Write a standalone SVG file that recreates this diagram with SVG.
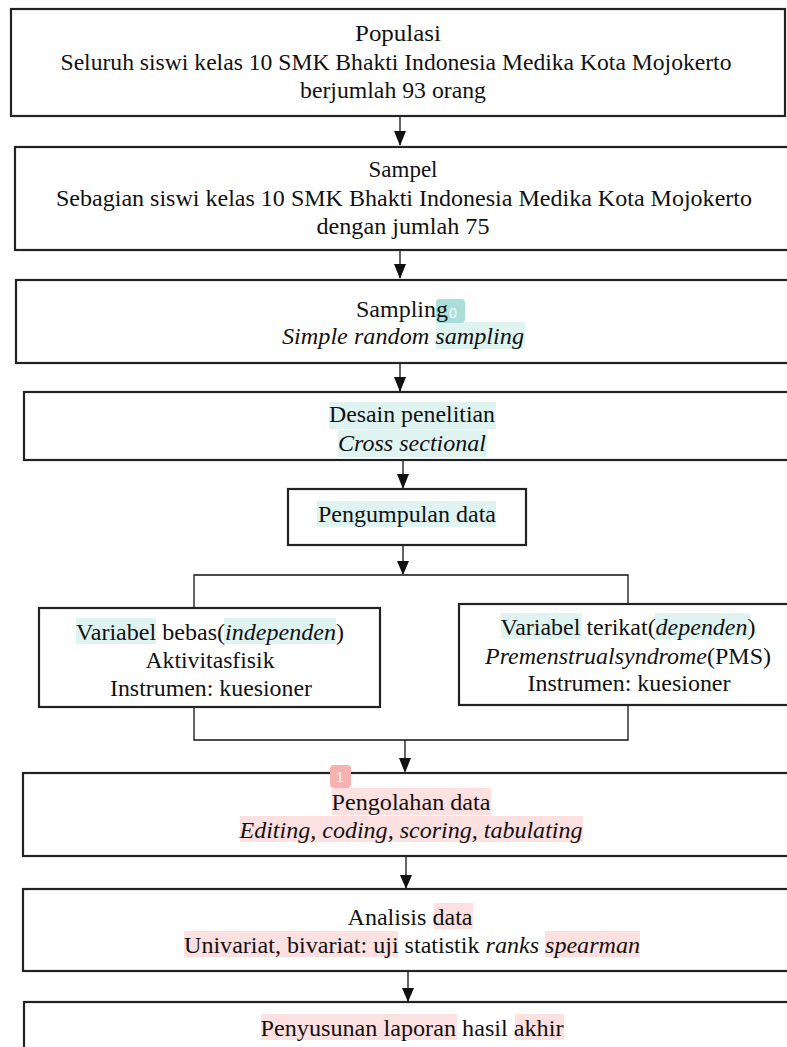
<svg xmlns="http://www.w3.org/2000/svg" width="787" height="1047" viewBox="0 0 787 1047" font-family="Liberation Serif, Times New Roman, serif">
<defs>
<style>
.box{fill:#ffffff;stroke:#222;stroke-width:2.2}
.ln{fill:none;stroke:#111;stroke-width:1.3}
text.t{font-family:'Liberation Serif',serif;font-size:24px;fill:#111;text-anchor:middle}
tspan.i, text.i{font-style:italic}
.hlt{fill:#dff3f1}
.hlp{fill:#fde1e1}
.bt{fill:#a9dedb}
.bp{fill:#f6b1b1}
text.bn{font-family:'Liberation Sans',sans-serif;font-size:14px;fill:#ffffff;text-anchor:middle}
</style>
</defs>
<rect width="787" height="1047" fill="#ffffff"/>

<g id="connectors">
<line class="ln" x1="400" y1="117" x2="400" y2="145"/>
<path d="M394,131 L406,131 L400,146 Z" fill="#111"/>
<line class="ln" x1="400" y1="251" x2="400" y2="278"/>
<path d="M394,264 L406,264 L400,279 Z" fill="#111"/>
<line class="ln" x1="400" y1="363" x2="400" y2="391"/>
<path d="M394,377 L406,377 L400,392 Z" fill="#111"/>
<line class="ln" x1="403" y1="461" x2="403" y2="488"/>
<path d="M397,474 L409,474 L403,489 Z" fill="#111"/>
<line class="ln" x1="403" y1="545" x2="403" y2="574"/>
<path d="M397,561 L409,561 L403,575 Z" fill="#111"/>
<polyline class="ln" points="194,608 194,575 628,575 628,603"/>
<polyline class="ln" points="194,708 194,740 628,740 628,706"/>
<line class="ln" x1="405" y1="740" x2="405" y2="771"/>
<path d="M399,758 L411,758 L405,773 Z" fill="#111"/>
<line class="ln" x1="406" y1="857" x2="406" y2="888"/>
<path d="M400,875 L412,875 L406,889 Z" fill="#111"/>
<line class="ln" x1="408" y1="972" x2="408" y2="1001"/>
<path d="M402,988 L414,988 L408,1002 Z" fill="#111"/>
</g>

<g id="populasi">
<rect class="box" x="11" y="9" width="774" height="107"/>
<text class="t" x="398" y="41" textLength="86" lengthAdjust="spacingAndGlyphs">Populasi</text>
<text class="t" x="396" y="70" textLength="671" lengthAdjust="spacingAndGlyphs">Seluruh siswi kelas 10 SMK Bhakti Indonesia Medika Kota Mojokerto</text>
<text class="t" x="393" y="98" textLength="186" lengthAdjust="spacingAndGlyphs">berjumlah 93 orang</text>
</g>

<g id="sampel">
<rect class="box" x="15" y="147" width="800" height="103"/>
<text class="t" x="403" y="177" textLength="69" lengthAdjust="spacingAndGlyphs">Sampel</text>
<text class="t" x="404" y="206" textLength="696" lengthAdjust="spacingAndGlyphs">Sebagian siswi kelas 10 SMK Bhakti Indonesia Medika Kota Mojokerto</text>
<text class="t" x="403" y="234" textLength="173" lengthAdjust="spacingAndGlyphs">dengan jumlah 75</text>
</g>

<g id="sampling">
<rect class="box" x="16" y="280" width="800" height="83"/>
<rect class="hlt" x="436" y="322" width="89" height="27"/>
<rect class="bt" x="436" y="299" width="29" height="24" rx="4"/>
<text class="t" x="402" y="317" textLength="92" lengthAdjust="spacingAndGlyphs">Sampling</text>
<text class="bn" x="453" y="318">0</text>
<text class="t i" x="403" y="344" textLength="242" lengthAdjust="spacingAndGlyphs">Simple random sampling</text>
</g>

<g id="desain">
<rect class="box" x="24" y="392" width="800" height="68"/>
<rect class="hlt" x="329" y="402" width="167" height="27"/>
<rect class="hlt" x="338" y="430" width="149" height="27"/>
<text class="t" x="412" y="422" textLength="166" lengthAdjust="spacingAndGlyphs">Desain penelitian</text>
<text class="t i" x="412" y="451" textLength="148" lengthAdjust="spacingAndGlyphs">Cross sectional</text>
</g>

<g id="pengumpulan">
<rect class="box" x="288" y="489" width="238" height="56"/>
<rect class="hlt" x="317" y="501" width="179" height="26"/>
<text class="t" x="407" y="522" textLength="178" lengthAdjust="spacingAndGlyphs">Pengumpulan data</text>
</g>

<g id="variabel-bebas">
<rect class="box" x="39" y="608" width="341" height="99"/>
<rect class="hlt" x="76" y="618" width="80" height="26"/>
<rect class="hlt" x="224" y="618" width="112" height="26"/>
<text class="t" x="210" y="640" textLength="268" lengthAdjust="spacingAndGlyphs">Variabel bebas(<tspan class="i">independen</tspan>)</text>
<text class="t" x="210" y="668" textLength="129" lengthAdjust="spacingAndGlyphs">Aktivitasfisik</text>
<text class="t" x="211" y="696" textLength="202" lengthAdjust="spacingAndGlyphs">Instrumen: kuesioner</text>
</g>

<g id="variabel-terikat">
<rect class="box" x="459" y="604" width="360" height="101"/>
<rect class="hlt" x="501" y="613" width="81" height="26"/>
<rect class="hlt" x="655" y="613" width="95" height="26"/>
<text class="t" x="628" y="635" textLength="255" lengthAdjust="spacingAndGlyphs">Variabel terikat(<tspan class="i">dependen</tspan>)</text>
<text class="t" x="628" y="664" textLength="286" lengthAdjust="spacingAndGlyphs"><tspan class="i">Premenstrualsyndrome</tspan>(PMS)</text>
<text class="t" x="629" y="691" textLength="203" lengthAdjust="spacingAndGlyphs">Instrumen: kuesioner</text>
</g>

<g id="pengolahan">
<rect class="box" x="23" y="773" width="800" height="83"/>
<rect class="hlp" x="332" y="788" width="159" height="27"/>
<rect class="hlp" x="240" y="816" width="343" height="26"/>
<rect class="bp" x="330" y="765" width="21" height="23" rx="4"/>
<text class="bn" x="340" y="782">1</text>
<text class="t" x="411" y="810" textLength="159" lengthAdjust="spacingAndGlyphs">Pengolahan data</text>
<text class="t i" x="411" y="838" textLength="343" lengthAdjust="spacingAndGlyphs">Editing, coding, scoring, tabulating</text>
</g>

<g id="analisis">
<rect class="box" x="23" y="889" width="800" height="82"/>
<rect class="hlp" x="434" y="903" width="39" height="26"/>
<rect class="hlp" x="184" y="931" width="214" height="26"/>
<rect class="hlp" x="545" y="931" width="95" height="26"/>
<text class="t" x="410" y="925" textLength="125" lengthAdjust="spacingAndGlyphs">Analisis data</text>
<text class="t" x="412" y="953" textLength="456" lengthAdjust="spacingAndGlyphs">Univariat, bivariat: uji statistik <tspan class="i">ranks spearman</tspan></text>
</g>

<g id="penyusunan">
<rect class="box" x="24" y="1002" width="800" height="80"/>
<rect class="hlp" x="261" y="1014" width="196" height="26"/>
<rect class="hlp" x="515" y="1014" width="49" height="26"/>
<text class="t" x="412" y="1036" textLength="303" lengthAdjust="spacingAndGlyphs">Penyusunan laporan hasil akhir</text>
</g>
</svg>
